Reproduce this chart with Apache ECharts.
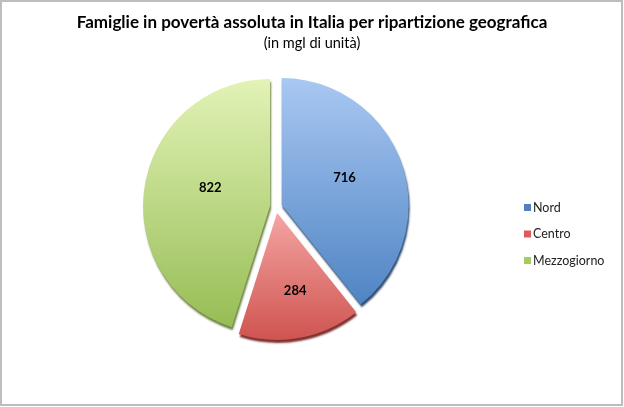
<!DOCTYPE html>
<html>
<head>
<meta charset="utf-8">
<script src="https://cdn.jsdelivr.net/npm/echarts@6/dist/echarts.min.js"></script>
<style>
  html, body { margin: 0; padding: 0; background: #fff; }
  #main { width: 624px; height: 407px; }
</style>
</head>
<body>
<div id="main"></div>
<script>
// dati
const regions = ['Nord', 'Centro', 'Mezzogiorno']
const values = [716, 284, 822]

// gradienti per fetta (chiaro in alto, scuro in basso)
const topColors = ['#a9c8f2', '#f4a5a3', '#e2f3b6']
const bottomColors = ['#4f84c4', '#cf5450', '#97bd55']
const edgeColors = ['rgba(25,55,95,0.9)', 'rgba(110,25,25,0.9)', 'rgba(85,110,35,0.85)']
const legendColors = ['#4f81bd', '#e05a57', '#a4cc5e']
// piccoli spostamenti delle etichette come nell'originale
const labelShift = [[0, -5], [6, 13], [6, -8]]

var chartDom = document.getElementById('main')
var myChart = echarts.init(chartDom)

const pieData = regions.map(function (name, i) {
  return {
    name: name,
    value: values[i],
    selected: true,
    itemStyle: {
      color: new echarts.graphic.LinearGradient(0, 0, 0, 1, [
        { offset: 0, color: topColors[i] },
        { offset: 1, color: bottomColors[i] },
      ]),
      shadowColor: edgeColors[i],
    },
  }
})

var option = {
  color: legendColors,
  title: {
    text: 'Famiglie in povertà assoluta in Italia per ripartizione geografica',
    subtext: '(in mgl di unità)',
    left: 'center',
    top: 9,
    itemGap: 5,
    textStyle: {
      fontFamily: 'Lato',
      fontWeight: 'bold',
      fontSize: 17,
      color: '#000',
    },
    subtextStyle: {
      fontFamily: 'Lato',
      fontSize: 14.5,
      color: '#000',
    },
  },
  legend: {
    orient: 'vertical',
    left: 519,
    top: 196,
    itemWidth: 7,
    itemHeight: 7,
    itemGap: 13.5,
    icon: 'rect',
    data: regions.map(function (name, i) {
      return { name: name, itemStyle: { color: legendColors[i] } }
    }),
    textStyle: {
      fontFamily: 'Lato',
      fontSize: 12.5,
      color: '#222',
      padding: [0, 0, 0, -3],
    },
    selectedMode: false,
  },
  graphic: [
    {
      type: 'rect',
      shape: { x: 1, y: 1, width: 621, height: 404 },
      style: { fill: 'none', stroke: '#bdbdbd', lineWidth: 2 },
      silent: true,
    },
  ],
  series: [
    {
      type: 'pie',
      center: [276, 207],
      radius: [0, 127],
      startAngle: 90,
      clockwise: true,
      selectedMode: 'multiple',
      selectedOffset: 6,
      animation: false,
      itemStyle: {
        borderWidth: 0,
        shadowBlur: 2,
        shadowOffsetX: 1,
        shadowOffsetY: 3,
      },
      label: {
        position: 'inside',
        formatter: '{c}',
        fontFamily: 'Lato',
        fontWeight: 'bold',
        fontSize: 13,
        color: '#000',
      },
      labelLayout: function (params) {
        const s = labelShift[params.dataIndex]
        return { dx: s[0], dy: s[1] }
      },
      labelLine: { show: false },
      emphasis: { disabled: true },
      data: pieData,
    },
  ],
}

option && myChart.setOption(option)
</script>
</body>
</html>
